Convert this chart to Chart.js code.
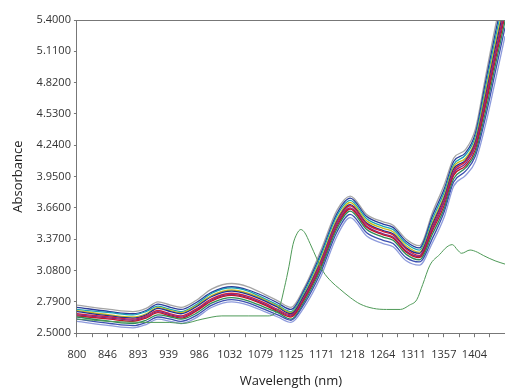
<!DOCTYPE html>
<html>
<head>
<meta charset="utf-8">
<script src="https://cdn.jsdelivr.net/npm/chart.js@4"></script>
<style>
  html, body { margin: 0; padding: 0; background: #fff; }
  #wrap { width: 505px; height: 389px; position: relative; }
</style>
</head>
<body>
<div id="wrap"><canvas id="spectraChart"></canvas></div>
<script>
// wavelengths (nm) at which the sample spectra were read
const wavelengths = [800, 850, 885, 905, 923, 942, 958, 980, 1005, 1035, 1060, 1085, 1105, 1125, 1145,
    1170, 1195, 1215, 1240, 1265, 1280, 1300, 1320, 1340, 1358, 1372, 1390, 1405, 1420, 1435, 1450];

// sample spectra, from the bottom of the bundle to the top
const sampleA = [2.61, 2.57, 2.55, 2.58, 2.63, 2.61, 2.59, 2.64, 2.74, 2.79, 2.76, 2.70, 2.65, 2.60, 2.74, 3.02, 3.40, 3.57, 3.40, 3.33, 3.30, 3.17, 3.13, 3.34, 3.58, 3.86, 3.96, 4.09, 4.42, 4.83, 5.25];
const sampleB = [2.63, 2.59, 2.57, 2.60, 2.65, 2.63, 2.61, 2.66, 2.76, 2.81, 2.78, 2.72, 2.67, 2.62, 2.77, 3.06, 3.44, 3.60, 3.43, 3.36, 3.33, 3.20, 3.16, 3.38, 3.63, 3.90, 4.00, 4.14, 4.49, 4.91, 5.33];
const sampleC = [2.65, 2.61, 2.59, 2.62, 2.67, 2.65, 2.63, 2.68, 2.78, 2.83, 2.80, 2.74, 2.69, 2.63, 2.79, 3.09, 3.47, 3.63, 3.46, 3.39, 3.36, 3.23, 3.18, 3.42, 3.66, 3.93, 4.03, 4.17, 4.54, 4.97, 5.39];
const sampleD = [2.66, 2.63, 2.61, 2.64, 2.69, 2.66, 2.64, 2.70, 2.80, 2.85, 2.82, 2.76, 2.70, 2.65, 2.81, 3.11, 3.49, 3.65, 3.48, 3.41, 3.38, 3.25, 3.20, 3.45, 3.69, 3.96, 4.05, 4.20, 4.59, 5.02, 5.44];
const sampleE = [2.67, 2.64, 2.62, 2.65, 2.70, 2.67, 2.65, 2.71, 2.81, 2.86, 2.83, 2.77, 2.71, 2.66, 2.82, 3.13, 3.51, 3.66, 3.49, 3.42, 3.39, 3.26, 3.21, 3.47, 3.72, 3.98, 4.07, 4.23, 4.62, 5.06, 5.48];
const sampleF = [2.68, 2.65, 2.63, 2.66, 2.71, 2.68, 2.66, 2.72, 2.82, 2.87, 2.84, 2.78, 2.72, 2.67, 2.83, 3.15, 3.53, 3.68, 3.51, 3.44, 3.41, 3.28, 3.22, 3.49, 3.74, 4.00, 4.09, 4.25, 4.65, 5.09, 5.51];
const sampleG = [2.70, 2.66, 2.64, 2.67, 2.73, 2.70, 2.68, 2.74, 2.84, 2.89, 2.86, 2.80, 2.74, 2.68, 2.85, 3.16, 3.54, 3.69, 3.52, 3.45, 3.42, 3.29, 3.24, 3.51, 3.76, 4.02, 4.10, 4.27, 4.68, 5.13, 5.55];
const sampleH = [2.71, 2.67, 2.65, 2.68, 2.74, 2.71, 2.69, 2.75, 2.85, 2.90, 2.87, 2.81, 2.75, 2.69, 2.86, 3.18, 3.56, 3.71, 3.54, 3.47, 3.44, 3.31, 3.25, 3.53, 3.78, 4.04, 4.12, 4.29, 4.72, 5.17, 5.59];
const sampleI = [2.72, 2.69, 2.67, 2.70, 2.75, 2.72, 2.70, 2.76, 2.87, 2.92, 2.89, 2.82, 2.76, 2.70, 2.88, 3.21, 3.59, 3.73, 3.56, 3.49, 3.46, 3.33, 3.27, 3.56, 3.81, 4.06, 4.15, 4.32, 4.76, 5.22, 5.64];
const sampleJ = [2.74, 2.70, 2.68, 2.71, 2.77, 2.74, 2.72, 2.78, 2.88, 2.93, 2.90, 2.84, 2.78, 2.72, 2.90, 3.23, 3.61, 3.75, 3.58, 3.51, 3.48, 3.35, 3.29, 3.59, 3.84, 4.09, 4.17, 4.35, 4.81, 5.27, 5.69];
const sampleK = [2.76, 2.72, 2.70, 2.73, 2.79, 2.76, 2.74, 2.80, 2.91, 2.96, 2.93, 2.86, 2.80, 2.74, 2.92, 3.26, 3.64, 3.77, 3.60, 3.53, 3.50, 3.37, 3.31, 3.62, 3.88, 4.12, 4.20, 4.39, 4.86, 5.33, 5.75];

// the odd one out (green trace)
const greenWavelengths = [800, 850, 900, 940, 960, 990, 1020, 1060, 1090, 1100, 1108, 1115, 1122, 1128, 1134, 1140,
    1146, 1154, 1165, 1174, 1186, 1199, 1215, 1230, 1250, 1270, 1291, 1305, 1316, 1325, 1336, 1351, 1362,
    1370, 1378, 1384, 1397, 1408, 1417, 1435, 1450];
const greenValues = [2.63, 2.61, 2.60, 2.60, 2.59, 2.63, 2.66, 2.66, 2.66, 2.68, 2.75, 2.92, 3.12, 3.32, 3.42, 3.46,
    3.43, 3.33, 3.18, 3.07, 2.98, 2.91, 2.83, 2.77, 2.73, 2.72, 2.72, 2.76, 2.81, 2.95, 3.13, 3.23, 3.30,
    3.32, 3.27, 3.24, 3.27, 3.25, 3.22, 3.17, 3.14];

const xTickLabels = ['800', '846', '893', '939', '986', '1032', '1079', '1125', '1171', '1218', '1264', '1311', '1357', '1404'];
const yTickValues = [2.5, 2.79, 3.08, 3.37, 3.66, 3.95, 4.24, 4.53, 4.82, 5.11, 5.4];

const spectra = [sampleA, sampleB, sampleC, sampleD, sampleE, sampleF, sampleG, sampleH, sampleI, sampleJ, sampleK];
const spectraColors = ['#8e9bdc', '#3b4fb0', '#2e8b57', '#c0182a', '#7b2c8f', '#d21f3c',
    '#1f2f8f', '#c6be1e', '#1aa3b5', '#2a3c9a', '#a5a5a5'];

const datasets = [{
    data: greenWavelengths.map((w, i) => ({ x: w, y: greenValues[i] })),
    borderColor: '#4f9a58',
    borderWidth: 1
}];
spectra.forEach((s, idx) => {
    datasets.push({
        data: wavelengths.map((w, i) => ({ x: w, y: s[i] })),
        borderColor: spectraColors[idx],
        borderWidth: 1.3
    });
});

// top frame line
const frameTop = {
    id: 'frameTop',
    afterDraw(chart) {
        const { ctx, chartArea } = chart;
        ctx.save();
        ctx.strokeStyle = '#777';
        ctx.lineWidth = 1;
        ctx.beginPath();
        ctx.moveTo(chartArea.left, chartArea.top + 0.5);
        ctx.lineTo(chartArea.right, chartArea.top + 0.5);
        ctx.stroke();
        ctx.restore();
    }
};

const fontFamily = '"Open Sans", "Noto Sans", sans-serif';
const nSteps = xTickLabels.length * 2; // a minor tick between each labelled one

new Chart(document.getElementById('spectraChart').getContext('2d'), {
    type: 'line',
    data: { datasets: datasets },
    options: {
        responsive: true,
        maintainAspectRatio: false,
        animation: false,
        layout: { padding: { left: 10, top: 20, right: 0, bottom: 0 } },
        elements: {
            point: { radius: 0 },
            line: { cubicInterpolationMode: 'monotone', fill: false }
        },
        plugins: {
            legend: { display: false },
            tooltip: { enabled: false }
        },
        scales: {
            x: {
                type: 'linear',
                min: 800,
                max: 1450,
                afterBuildTicks: axis => {
                    const step = (1450 - 800) / nSteps;
                    const ticks = [];
                    for (let i = 0; i <= nSteps; i++) ticks.push({ value: 800 + i * step });
                    axis.ticks = ticks;
                },
                afterFit: axis => { axis.paddingRight = 0; },
                ticks: {
                    autoSkip: false,
                    maxRotation: 0,
                    padding: 11,
                    color: '#333',
                    font: { family: fontFamily, size: 11 },
                    callback: (v, i) => (i % 2 === 0 && xTickLabels[i / 2]) ? xTickLabels[i / 2] : ''
                },
                grid: { drawOnChartArea: false, tickLength: 4, color: '#777' },
                border: { color: '#777' },
                title: {
                    display: true,
                    text: 'Wavelength (nm)',
                    color: '#222',
                    font: { family: fontFamily, size: 13 },
                    padding: { top: 1, bottom: 0 }
                }
            },
            y: {
                min: 2.5,
                max: 5.4,
                afterBuildTicks: axis => {
                    axis.ticks = yTickValues.map(v => ({ value: v }));
                },
                ticks: {
                    padding: 3,
                    color: '#333',
                    font: { family: fontFamily, size: 11 },
                    callback: v => v.toFixed(4)
                },
                grid: { drawOnChartArea: false, tickLength: 3, color: '#777' },
                border: { color: '#777' },
                title: {
                    display: true,
                    text: 'Absorbance',
                    color: '#222',
                    font: { family: fontFamily, size: 13 },
                    padding: { top: 0, bottom: 8 }
                }
            }
        }
    },
    plugins: [frameTop]
});
</script>
</body>
</html>
